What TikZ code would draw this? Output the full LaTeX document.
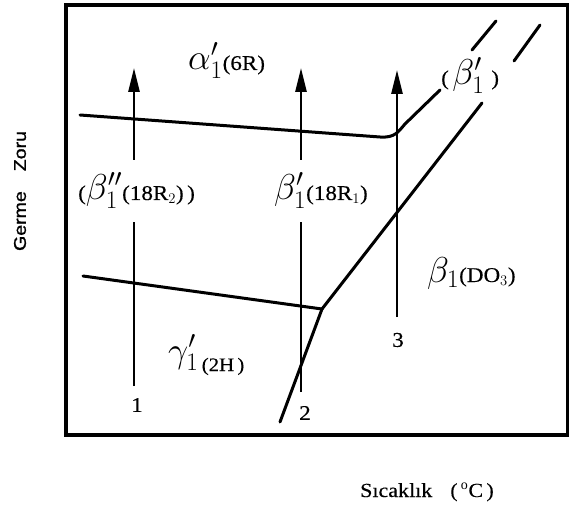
\documentclass[tikz,border=0pt]{standalone}
\usepackage{fix-cm}
\usepackage{fontspec}
\setmainfont{Liberation Serif}
\newfontfamily\axisfont[FakeStretch=1.15, FakeBold=1.2]{Liberation Sans}
\newfontfamily\labelfont[FakeStretch=1.1, FakeBold=0.3]{Liberation Serif}
\usetikzlibrary{arrows.meta}

\newcommand{\phgreek}[1]{{\fontsize{36}{38}\selectfont$#1$}}
\newcommand{\phstruct}[1]{{\fontsize{21}{24}\labelfont #1}}

\begin{document}
\begin{tikzpicture}[x=1pt, y=-1pt,
    frame/.style={line width=4.5pt},
    boundary/.style={line width=3pt, line cap=round},
    strain/.style={-{Triangle[length=24pt, width=11pt]}, line width=2.6pt},
    phase/.style={inner sep=0pt, anchor=base west},
    pathno/.style={font=\fontsize{21}{24}\labelfont, inner sep=1pt},
]
\useasboundingbox (0,0) rectangle (569,510);
\draw[frame] (66,5) rectangle (568,435);

% strain paths 1, 2, 3
\coordinate (a1b) at (134,386);
\coordinate (a1lo) at (134,222);
\coordinate (a1hi) at (134,160);
\coordinate (a1t) at (134,68);
\coordinate (a2b) at (301,392);
\coordinate (a2lo) at (301,222);
\coordinate (a2hi) at (301,160);
\coordinate (a2t) at (301,68);
\coordinate (a3b) at (397,317);
\coordinate (a3t) at (397,70);

% phase boundaries
\coordinate (u0) at (80,115);
\coordinate (u1) at (380,137);
\coordinate (u2) at (440,90);
\coordinate (u3) at (472,50);
\coordinate (u4) at (496,21);
\coordinate (l0) at (83,276);
\coordinate (k) at (322,309);
\coordinate (s0) at (280,422);
\coordinate (d1) at (482,103);
\coordinate (d2) at (514,61);
\coordinate (d3) at (540,25);

\draw[boundary] (u0) -- (u1) .. controls (395,138) and (398,132) .. (405,124) -- (u2);
\draw[boundary] (u3) -- (u4);
\draw[boundary] (l0) -- (k);
\draw[boundary] (s0) -- (k);
\draw[boundary] (k) -- (d1);
\draw[boundary] (d2) -- (d3);

\draw[line width=2.6pt] (a1b) -- (a1lo);
\draw[strain] (a1hi) -- (a1t);
\draw[line width=2.6pt] (a2b) -- (a2lo);
\draw[strain] (a2hi) -- (a2t);
\draw[strain] (a3b) -- (a3t);

% phase labels
\node[phase] (alpha) at (188,70) {\phgreek{\alpha_1'}\phstruct{(6R)}};
\node[phase] (beta2) at (78,200) {\phstruct{(}\phgreek{\beta_1''}\phstruct{(18R$_2$)\,)}};
\node[phase] (beta1) at (274,200) {\phgreek{\beta_1'}\phstruct{(18R$_1$)}};
\node[phase] (betap) at (441,85) {\phstruct{(\,}\phgreek{\beta_1'}\phstruct{\,\,)}};
\node[phase] (beta) at (427,282) {\phgreek{\beta_1}\phstruct{(DO$_3$)}};
\node[phase] (gamma) at (168,362) {\phgreek{\gamma_1'}\raisebox{-9pt}{\fontsize{19}{22}\labelfont\,(2H\,)}};

\node[pathno] (n1) at (137,405) {1};
\node[pathno] (n2) at (305,413) {2};
\node[pathno] (n3) at (398,340) {3};

% axis titles
\node[rotate=90, font=\fontsize{17}{20}\axisfont] (ylab) at (20,191) {Germe\hspace{20pt}Zoru};
\node[anchor=base west, inner sep=0pt, font=\fontsize{20}{22}\labelfont] (xlab) at (360,497) {Sıcaklık\hspace{18pt}(\,$^{\mathrm{o}}$C\,)};
\end{tikzpicture}
\end{document}
